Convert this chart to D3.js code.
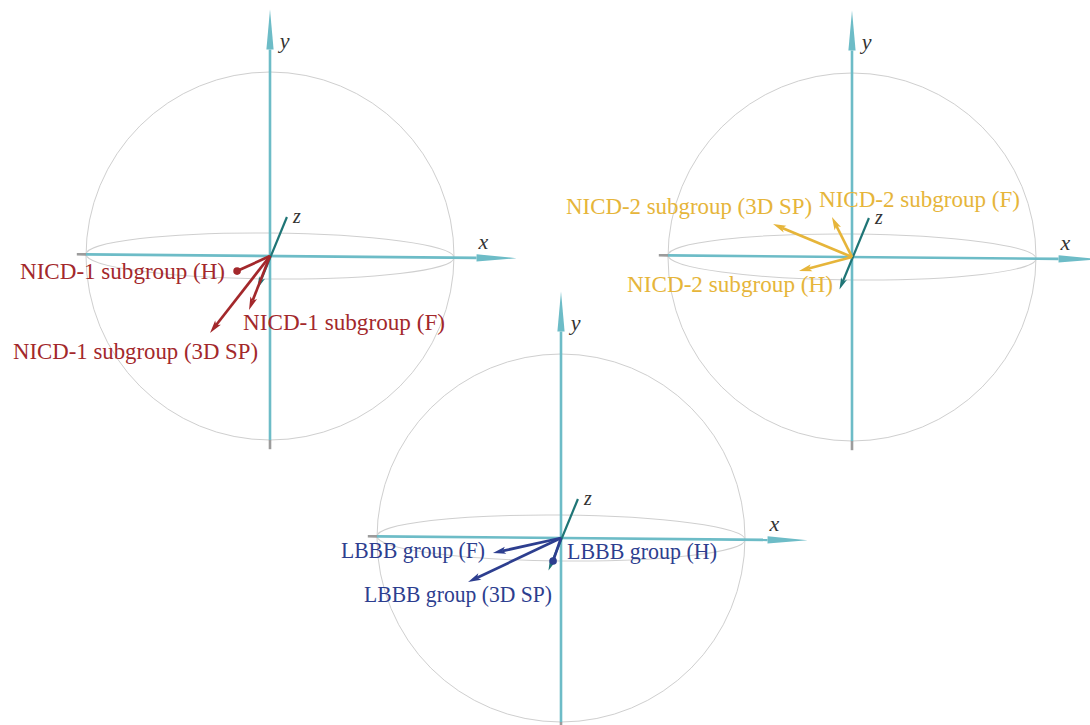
<!DOCTYPE html>
<html>
<head>
<meta charset="utf-8">
<script src="https://cdn.jsdelivr.net/npm/d3@7"></script>
<style>
  html, body { margin: 0; padding: 0; background: #ffffff; }
  svg { display: block; }
</style>
</head>
<body>
<script>
// Three unit spheres, each showing the mean vectors of one patient group
// (projected onto the screen, in units of the sphere radius).
const groups = ["NICD-1 subgroup", "NICD-2 subgroup", "LBBB group"];
const vectorNames = ["H", "F", "3D SP"];
const groupColors = ["#a3282b", "#e6b53a", "#2d3e8f"];

// projected x / y components of the H, F and 3D SP vectors for each group
const vecX = [
  [-0.179, -0.114, -0.326],
  [-0.288, -0.109, -0.429],
  [-0.043, -0.370, -0.505]
];
const vecY = [
  [-0.082, -0.293, -0.418],
  [-0.076,  0.217,  0.179],
  [-0.125, -0.082, -0.239]
];
// how each vector's tip is rendered (cone seen end-on shows as a dot)
const tipMarkers = [
  ["dot", "arrow", "arrow"],
  ["arrow", "arrow", "arrow"],
  ["dot", "arrow", "arrow"]
];

// projected z axis (positive end, negative end)
const zAxisX = [0.092, -0.068];
const zAxisY = [0.212, -0.177];
const axisNames = ["x", "y", "z"];
const axisExtent = [-1.05, 1.34];

// ---- layout -------------------------------------------------------------
const W = 1090, H = 725, R = 184;
const centers = [[270, 256], [852, 257], [561, 538]];
// label boxes relative to the sphere centre: [left, right, baseline]
const labelBoxes = [
  [[-250, -45, 23], [-27, 175, 74], [-257, -12, 103]],
  [[-225, -19, 35], [-33, 168, -50], [-286, -40, -43]],
  [[6, 156, 21], [-220, -76, 20], [-197, -9, 64]]
];
const xSlope = -0.009;          // tiny roll of the horizontal axis

const teal = "#6dbcc7", zTeal = "#1f7576", shadow = "#9c9c9c", rim = "#cfcfcf";
const serif = "'Liberation Serif', 'DejaVu Serif', serif";

const svg = d3.select("body").append("svg")
  .attr("width", W).attr("height", H);

function headPoints(x0, y0, x1, y1, len, half, notch) {
  const dx = x1 - x0, dy = y1 - y0, d = Math.hypot(dx, dy);
  const ux = dx / d, uy = dy / d, nx = -uy, ny = ux;
  const bx = x1 - ux * len, by = y1 - uy * len;
  const pts = [[x1, y1], [bx + nx * half, by + ny * half]];
  if (notch) pts.push([bx + ux * notch, by + uy * notch]);
  pts.push([bx - nx * half, by - ny * half]);
  return pts;
}

groups.forEach((g, gi) => {
  const [cx, cy] = centers[gi];
  const sx = d3.scaleLinear().domain([-1, 1]).range([cx - R, cx + R]);
  const sy = d3.scaleLinear().domain([-1, 1]).range([cy + R, cy - R]);
  const layer = svg.append("g").attr("class", "sphere");
  const col = groupColors[gi];

  // silhouette and equator
  layer.append("circle")
    .attr("cx", sx(0)).attr("cy", sy(0)).attr("r", sx(1) - sx(0))
    .attr("fill", "none").attr("stroke", rim).attr("stroke-width", 1);
  layer.append("ellipse")
    .attr("cx", sx(0)).attr("cy", sy(0))
    .attr("rx", sx(1) - sx(0)).attr("ry", sy(0) - sy(0.125))
    .attr("transform", `rotate(${-Math.atan(xSlope) * 180 / Math.PI} ${sx(0)} ${sy(0)})`)
    .attr("fill", "none").attr("stroke", rim).attr("stroke-width", 1);

  // x and y axes: grey stub outside the sphere on the negative side,
  // teal shaft, long thin cone at the positive end
  const axes = [
    { p: t => [sx(t), sy(t * xSlope)] },
    { p: t => [sx(0), sy(t)] }
  ];
  axes.forEach(a => {
    const [ax0, ay0] = a.p(axisExtent[0]);
    const [ax1, ay1] = a.p(-1);
    const [tx, ty] = a.p(axisExtent[1]);
    layer.append("line")
      .attr("x1", ax0).attr("y1", ay0).attr("x2", ax1).attr("y2", ay1)
      .attr("stroke", shadow).attr("stroke-width", 2.6);
    const head = headPoints(ax1, ay1, tx, ty, 40, 3.6, 0);
    const bx = (head[1][0] + head[2][0]) / 2, by = (head[1][1] + head[2][1]) / 2;
    layer.append("line")
      .attr("x1", ax1).attr("y1", ay1).attr("x2", bx).attr("y2", by)
      .attr("stroke", teal).attr("stroke-width", 2.6);
    layer.append("polygon")
      .attr("points", head.map(p => p.join(",")).join(" "))
      .attr("fill", teal);
  });

  // axis letters
  const axisLabelPos = [[sx(1.16), sy(0.04)], [sx(0.08), sy(1.13)]];
  axisLabelPos.forEach((p, i) => {
    layer.append("text")
      .attr("x", p[0]).attr("y", p[1])
      .attr("text-anchor", "middle")
      .attr("font-family", serif)
      .attr("font-style", "italic").attr("font-size", 22)
      .attr("fill", "#333")
      .text(axisNames[i]);
  });

  // z axis: dark teal line with a small cone at the near end
  const zp = [sx(zAxisX[0]), sy(zAxisY[0])];
  const zn = [sx(zAxisX[1]), sy(zAxisY[1])];
  const zHead = headPoints(zp[0], zp[1], zn[0], zn[1], 12, 3.2, 3);
  layer.append("line")
    .attr("x1", zp[0]).attr("y1", zp[1])
    .attr("x2", zHead[2][0]).attr("y2", zHead[2][1])
    .attr("stroke", zTeal).attr("stroke-width", 2.2);
  layer.append("polygon")
    .attr("points", zHead.map(p => p.join(",")).join(" "))
    .attr("fill", zTeal);
  layer.append("text")
    .attr("x", zp[0] + 10).attr("y", zp[1] + 6)
    .attr("text-anchor", "middle")
    .attr("font-family", serif)
    .attr("font-style", "italic").attr("font-size", 20)
    .attr("fill", "#333")
    .text(axisNames[2]);

  // group vectors
  vectorNames.forEach((vn, vi) => {
    const ox = sx(0), oy = sy(0);
    const ex = sx(vecX[gi][vi]), ey = sy(vecY[gi][vi]);
    if (tipMarkers[gi][vi] === "dot") {
      layer.append("line")
        .attr("x1", ox).attr("y1", oy).attr("x2", ex).attr("y2", ey)
        .attr("stroke", col).attr("stroke-width", 2.7);
      layer.append("circle")
        .attr("cx", ex).attr("cy", ey).attr("r", 3.8).attr("fill", col);
    } else {
      const head = headPoints(ox, oy, ex, ey, 13, 3.6, 3);
      layer.append("line")
        .attr("x1", ox).attr("y1", oy)
        .attr("x2", head[2][0]).attr("y2", head[2][1])
        .attr("stroke", col).attr("stroke-width", 2.7);
      layer.append("polygon")
        .attr("points", head.map(p => p.join(",")).join(" "))
        .attr("fill", col);
    }
  });

  // vector labels
  vectorNames.forEach((vn, vi) => {
    const [l, r, b] = labelBoxes[gi][vi];
    layer.append("text")
      .attr("x", cx + l).attr("y", cy + b)
      .attr("font-family", serif)
      .attr("font-size", 23.5)
      .attr("fill", col)
      .attr("textLength", r - l)
      .attr("lengthAdjust", "spacingAndGlyphs")
      .text(`${g} (${vn})`);
  });
});
</script>
</body>
</html>
